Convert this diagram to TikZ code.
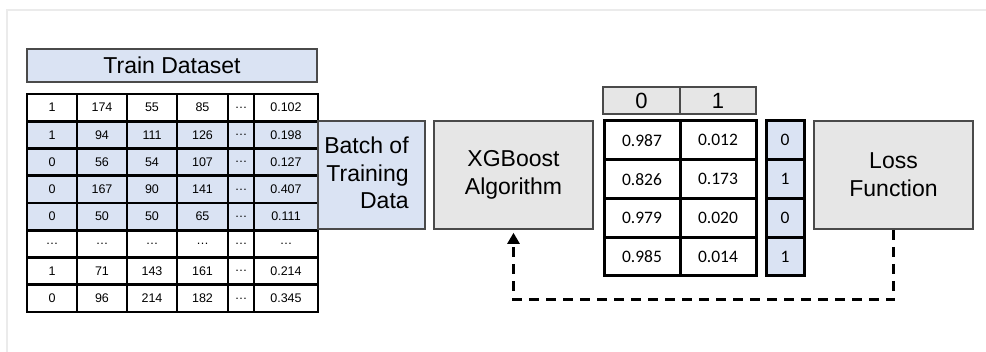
\documentclass[tikz,border=0pt]{standalone}
\usepackage{fontspec}
\setmainfont{Liberation Sans}
\newfontfamily\calib{Carlito}
\usetikzlibrary{arrows.meta}
\definecolor{bluefill}{HTML}{DAE3F3}
\definecolor{greyfill}{HTML}{E6E6E6}
\definecolor{boxline}{HTML}{4A4A4A}
\definecolor{framecol}{HTML}{EBEBEB}
\tikzset{
  x=1pt, y=-1pt,
  bigtext/.style={font=\fontsize{23}{27.6}\selectfont},
  greybox/.style={draw=boxline, fill=greyfill, line width=1.6pt, inner sep=0pt, bigtext, align=center},
  bluebox/.style={draw=boxline, fill=bluefill, line width=1.6pt, inner sep=0pt, bigtext, align=center},
  tcell/.style={draw=black, line width=2.8pt, inner sep=0pt, font=\fontsize{12.5}{14}\selectfont},
  pcell/.style={draw=black, line width=3pt, inner sep=0pt, font=\calib\fontsize{17.5}{20}\selectfont},
  hcell/.style={draw=boxline, fill=greyfill, line width=1.6pt, inner sep=0pt, font=\fontsize{22}{26}\selectfont},
  feedback/.style={draw=black, line width=2.6pt, dash pattern=on 10pt off 7pt, -{Triangle[length=11pt,width=12pt]}, shorten >=3pt}
}
\begin{document}
\begin{tikzpicture}
\useasboundingbox (0,0) rectangle (986,352);
% faint outer frame
\draw[framecol, line width=1.5pt] (7,360) |- (1000,10);

% Train Dataset title
\node[bluebox, minimum width=290pt, minimum height=33pt] (title) at (172,65.5) {Train Dataset};

% blue band behind rows 2-5
\fill[bluefill] (27,121.25) rectangle (318,230.25);

% dataset table
\foreach \vals [count=\r] in {{1,174,55,85,…,0.102},{1,94,111,126,…,0.198},{0,56,54,107,…,0.127},{0,167,90,141,…,0.407},{0,50,50,65,…,0.111},{…,…,…,…,…,…},{1,71,143,161,…,0.214},{0,96,214,182,…,0.345}} {
  \foreach \v [count=\c] in \vals {
    \pgfmathsetmacro\xx{{52,102,152,202.5,241,286}[\c-1]}
    \pgfmathsetmacro\ww{{50,50,50,51,26,64}[\c-1]}
    \pgfmathsetmacro\yy{94+27.25*(\r-0.5)}
    \node[tcell, minimum width=\ww pt, minimum height=27.25pt] (d-\r-\c) at (\xx,\yy) {\v};
  }
}

% Batch of training data
\node[bluebox, minimum width=107pt, minimum height=108pt] (batch) at (371.5,175) {};
\node[bigtext, align=right, inner sep=0pt] (batchtext) at (366.5,173) {Batch of\\Training\\Data};

% XGBoost
\node[greybox, minimum width=159pt, minimum height=108pt] (xgb) at (513.5,175) {XGBoost\\Algorithm};

% header 0 | 1
\node[hcell, minimum width=77pt, minimum height=27pt] (h0) at (641.5,100.5) {0};
\node[hcell, minimum width=76pt, minimum height=27pt] (h1) at (718,100.5) {1};

% probabilities
\foreach \a/\b/\l [count=\r] in {0.987/0.012/0, 0.826/0.173/1, 0.979/0.020/0, 0.985/0.014/1} {
  \pgfmathsetmacro\yy{121+38.75*(\r-0.5)}
  \node[pcell, minimum width=76pt, minimum height=38.75pt] (p-\r-1) at (642,\yy) {\a};
  \node[pcell, minimum width=76pt, minimum height=38.75pt] (p-\r-2) at (718,\yy) {\b};
  \node[pcell, fill=bluefill, minimum width=38pt, minimum height=38.75pt] (lab-\r) at (785,\yy) {\l};
}

% Loss function
\node[greybox, minimum width=159pt, minimum height=108pt] (loss) at (893.5,175) {Loss\\Function};

% feedback
\draw[feedback] (loss.south) -- ++(0,70) -| (xgb.south);
\end{tikzpicture}
\end{document}
